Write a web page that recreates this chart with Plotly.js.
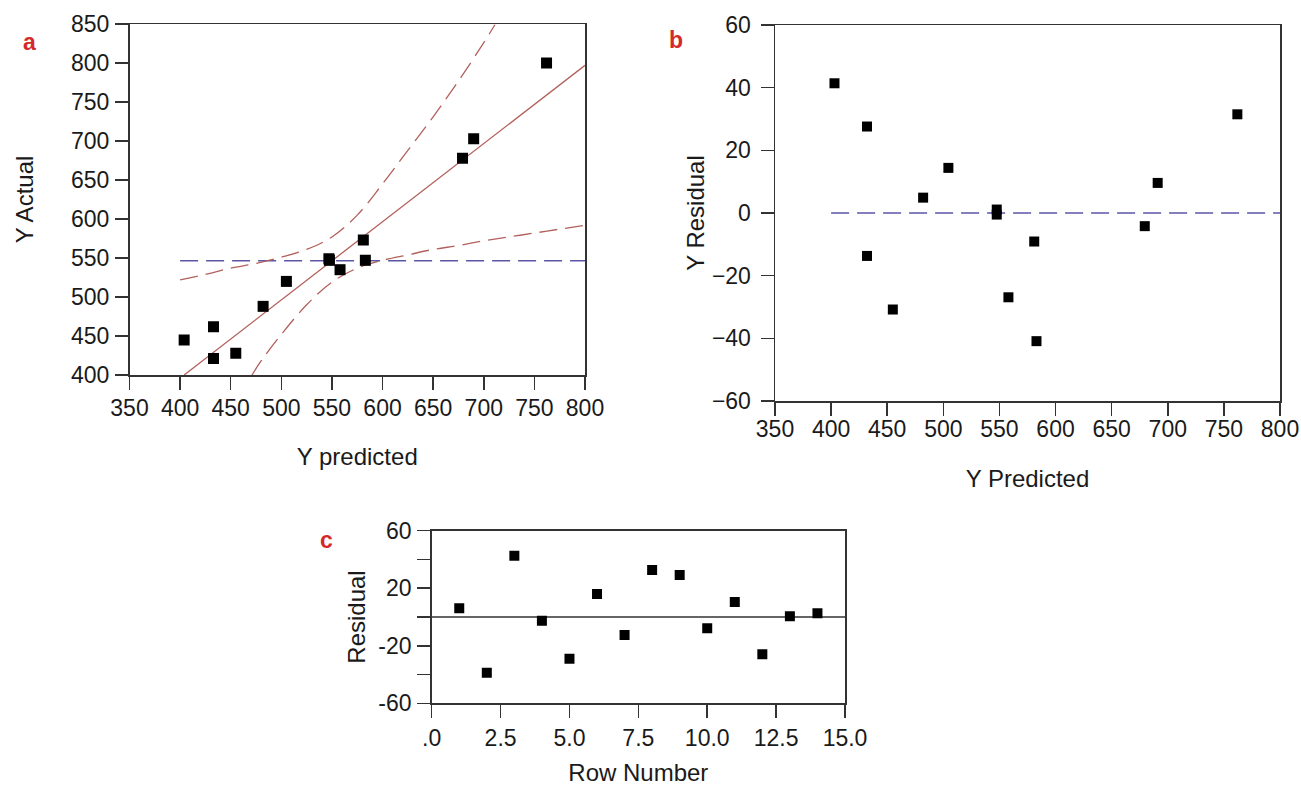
<!DOCTYPE html>
<html>
<head>
<meta charset="utf-8">
<script src="https://cdn.plot.ly/plotly-3.0.1.min.js"></script>
<style>
  html, body { margin: 0; padding: 0; background: #fff; }
  #chart { width: 1301px; height: 789px; }
</style>
</head>
<body>
<div id="chart"></div>
<script>
// ---------- Panel a: Actual vs Predicted ----------
const predA = [404, 433, 433, 455, 482, 505, 547, 547.5, 558, 581, 583, 679, 690, 762];
const actA  = [445, 462, 421, 428, 488, 520, 549, 547, 535, 573, 547, 678, 703, 800];
const fitX  = [404, 800];
const fitY  = [400, 797];
const meanAX = [400, 800];
const meanAY = [546.5, 546.5];
const upperX = [400, 425, 450, 475, 500, 525, 550, 575, 600, 625, 650, 675, 700, 711];
const upperY = [522, 529, 537, 543, 551, 561, 577, 605, 645, 688, 731, 777, 826, 849];
const lowerX = [471, 480, 500, 525, 550, 575, 600, 625, 650, 675, 700, 725, 750, 775, 800];
const lowerY = [400, 418, 452, 490, 519, 537, 547, 554, 561, 566, 572, 577, 582, 587, 592];
const ticksA_X = [350, 400, 450, 500, 550, 600, 650, 700, 750, 800];
const ticksA_Y = [400, 450, 500, 550, 600, 650, 700, 750, 800, 850];

// ---------- Panel b: Residual vs Predicted ----------
const predB  = [403, 432, 432, 455, 482, 504.5, 547.6, 547.6, 558, 581, 583, 679.5, 691, 762];
const residB = [41.4, 27.6, -13.7, -30.8, 4.9, 14.4, 1.1, -0.5, -26.9, -9.1, -40.9, -4.2, 9.6, 31.5];
const zeroBX = [400, 800];
const zeroBY = [0, 0];
const ticksB_Y = [-60, -40, -20, 0, 20, 40, 60];

// ---------- Panel c: Residual vs Row ----------
const rowC   = [1, 2, 3, 4, 5, 6, 7, 8, 9, 10, 11, 12, 13, 14];
const residC = [6.0, -38.7, 42.6, -2.6, -29.0, 16.0, -12.5, 32.7, 29.2, -7.9, 10.4, -25.9, 0.5, 2.6];
const zeroCX = [0, 15];
const zeroCY = [0, 0];
const ticksC_X = [0, 2.5, 5, 7.5, 10, 12.5, 15];
const ticksC_Xtext = ['.0', '2.5', '5.0', '7.5', '10.0', '12.5', '15.0'];
const ticksC_Y = [-60, -40, -20, 0, 20, 40, 60];
const ticksC_Ytext = ['-60', '', '-20', '', '20', '', '60'];

const FONT = 'Liberation Sans, Arial, Helvetica, sans-serif';
const fitColor = '#b2605c';
const meanColor = '#5a55a6';
const axisColor = '#333333';

const marker = (s) => ({symbol: 'square', size: s, color: '#000000', line: {width: 0}});

const traces = [
  {x: meanAX, y: meanAY, mode: 'lines', xaxis: 'x', yaxis: 'y', line: {color: meanColor, width: 1.3, dash: '18px,8px'}, hoverinfo: 'skip'},
  {x: upperX, y: upperY, mode: 'lines', xaxis: 'x', yaxis: 'y', line: {color: fitColor, width: 1.3, dash: '18px,8px', shape: 'spline'}, hoverinfo: 'skip'},
  {x: lowerX, y: lowerY, mode: 'lines', xaxis: 'x', yaxis: 'y', line: {color: fitColor, width: 1.3, dash: '18px,8px', shape: 'spline'}, hoverinfo: 'skip'},
  {x: fitX, y: fitY, mode: 'lines', xaxis: 'x', yaxis: 'y', line: {color: fitColor, width: 1.3}, hoverinfo: 'skip'},
  {x: predA, y: actA, mode: 'markers', xaxis: 'x', yaxis: 'y', marker: marker(11)},

  {x: zeroBX, y: zeroBY, mode: 'lines', xaxis: 'x2', yaxis: 'y2', line: {color: meanColor, width: 1.3, dash: '18px,8px'}, hoverinfo: 'skip'},
  {x: predB, y: residB, mode: 'markers', xaxis: 'x2', yaxis: 'y2', marker: marker(10)},

  {x: zeroCX, y: zeroCY, mode: 'lines', xaxis: 'x3', yaxis: 'y3', line: {color: axisColor, width: 1.3}, hoverinfo: 'skip'},
  {x: rowC, y: residC, mode: 'markers', xaxis: 'x3', yaxis: 'y3', marker: marker(10)}
];

const W = 1301, H = 789;
const dx = (a, b) => [a / W, b / W];
const dy = (top, bottom) => [(H - bottom) / H, (H - top) / H];

const baseAxis = {
  showgrid: false, zeroline: false, showline: true, mirror: true,
  linecolor: axisColor, linewidth: 1.5,
  ticks: 'outside', ticklen: 13, tickwidth: 1.5, tickcolor: axisColor,
  tickfont: {family: FONT, size: 23, color: '#1a1a1a'},
  fixedrange: true
};
const titleFont = {family: FONT, size: 24, color: '#1a1a1a'};

const layout = {
  width: W, height: H,
  margin: {l: 0, r: 0, t: 0, b: 0},
  paper_bgcolor: '#ffffff', plot_bgcolor: '#ffffff',
  showlegend: false,
  font: {family: FONT},
  xaxis: Object.assign({}, baseAxis, {
    domain: dx(129.5, 585), range: [350, 800], tickvals: ticksA_X, ticklabelstandoff: -1,
    anchor: 'y', title: {text: 'Y predicted', font: titleFont, standoff: 28}
  }),
  yaxis: Object.assign({}, baseAxis, {
    domain: dy(24, 375), range: [400, 850], tickvals: ticksA_Y, ticklabelstandoff: 1,
    anchor: 'x', title: {text: 'Y Actual', font: titleFont, standoff: 30}
  }),
  xaxis2: Object.assign({}, baseAxis, {
    domain: dx(775, 1280), range: [350, 800], tickvals: ticksA_X, ticklabelstandoff: -6,
    anchor: 'y2', title: {text: 'Y Predicted', font: titleFont, standoff: 29}
  }),
  yaxis2: Object.assign({}, baseAxis, {
    domain: dy(25, 401), range: [-60, 60], tickvals: ticksB_Y, ticklabelstandoff: 5,
    anchor: 'x2', title: {text: 'Y Residual', font: titleFont, standoff: 0}
  }),
  xaxis3: Object.assign({}, baseAxis, {
    domain: dx(431.7, 845), range: [0, 15], tickvals: ticksC_X, ticktext: ticksC_Xtext, ticklabelstandoff: 1,
    anchor: 'y3', title: {text: 'Row Number', font: titleFont, standoff: 14}
  }),
  yaxis3: Object.assign({}, baseAxis, {
    domain: dy(530.7, 703.3), range: [-60, 60], tickvals: ticksC_Y, ticktext: ticksC_Ytext, ticklabelstandoff: 1,
    anchor: 'x3', title: {text: 'Residual', font: titleFont, standoff: 6}
  }),
  annotations: [
    {text: '<b>a</b>', x: 29 / W, y: (H - 42) / H, xref: 'paper', yref: 'paper', showarrow: false, font: {family: FONT, size: 23, color: '#d42a2a'}, xanchor: 'center', yanchor: 'middle'},
    {text: '<b>b</b>', x: 676 / W, y: (H - 40) / H, xref: 'paper', yref: 'paper', showarrow: false, font: {family: FONT, size: 23, color: '#d42a2a'}, xanchor: 'center', yanchor: 'middle'},
    {text: '<b>c</b>', x: 326 / W, y: (H - 540) / H, xref: 'paper', yref: 'paper', showarrow: false, font: {family: FONT, size: 23, color: '#d42a2a'}, xanchor: 'center', yanchor: 'middle'}
  ]
};

Plotly.newPlot('chart', traces, layout, {staticPlot: true, displayModeBar: false});
</script>
</body>
</html>
